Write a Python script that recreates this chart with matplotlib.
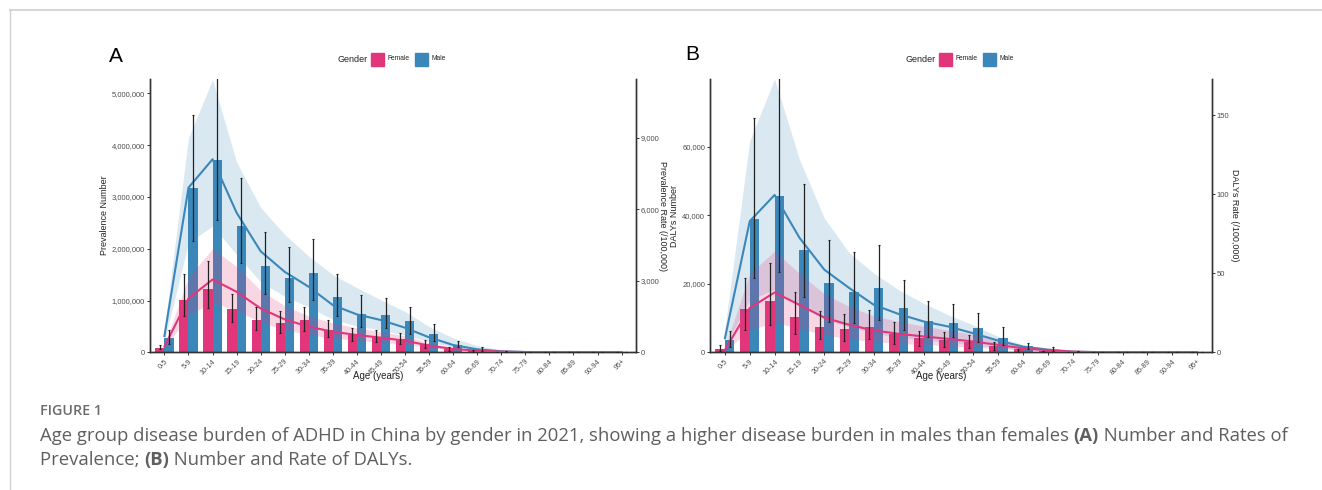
import matplotlib
matplotlib.use("Agg")
import matplotlib.pyplot as plt
from matplotlib.patches import Rectangle
from matplotlib.ticker import FuncFormatter
import numpy as np

ages = ["0-5", "5-9", "10-14", "15-19", "20-24", "25-29", "30-34", "35-39",
        "40-44", "45-49", "50-54", "55-59", "60-64", "65-69", "70-74",
        "75-79", "80-84", "85-89", "90-94", "95+"]

# Panel A: prevalence numbers (bars) and rates (lines)
prev_num_f = [90000, 1020000, 1220000, 830000, 620000, 560000, 620000, 440000,
              330000, 300000, 260000, 160000, 70000, 30000, 10000, 3000, 1000, 0, 0, 0]
prev_num_f_lo = [60000, 700000, 850000, 590000, 430000, 380000, 420000, 300000,
                 210000, 190000, 160000, 90000, 30000, 10000, 4000, 1000, 0, 0, 0, 0]
prev_num_f_hi = [140000, 1510000, 1760000, 1120000, 880000, 790000, 870000, 630000,
                 460000, 440000, 380000, 240000, 110000, 40000, 15000, 5000, 1000, 0, 0, 0]
prev_num_m = [280000, 3170000, 3710000, 2440000, 1660000, 1440000, 1530000, 1060000,
              740000, 720000, 600000, 360000, 150000, 60000, 15000, 5000, 1000, 0, 0, 0]
prev_num_m_lo = [170000, 2150000, 2550000, 1730000, 1130000, 970000, 1020000, 710000,
                 490000, 460000, 350000, 220000, 100000, 30000, 8000, 2000, 0, 0, 0, 0]
prev_num_m_hi = [430000, 4580000, 5600000, 3360000, 2320000, 2030000, 2190000, 1520000,
                 1110000, 1040000, 880000, 540000, 220000, 110000, 25000, 8000, 2000, 0, 0, 0]
prev_rate_f = [237, 2260, 3055, 2540, 1840, 1380, 1074, 865, 725, 614, 488, 279,
               140, 70, 28, 10, 4, 1, 0, 0]
prev_rate_f_lo = [160, 1550, 2100, 1750, 1270, 950, 740, 600, 500, 420, 335, 190,
                  95, 48, 19, 6, 2, 0, 0, 0]
prev_rate_f_hi = [330, 3150, 4350, 3600, 2600, 1950, 1520, 1230, 1030, 870, 690, 400,
                  200, 100, 40, 12, 4, 1, 0, 0]
prev_rate_m = [683, 6910, 8100, 5857, 4239, 3376, 2748, 1980, 1590, 1353, 1032, 628,
               307, 126, 42, 14, 5, 2, 1, 0]
prev_rate_m_lo = [450, 4600, 5300, 4100, 2950, 2350, 1900, 1380, 1100, 940, 720, 440,
                  215, 88, 29, 10, 3, 1, 0, 0]
prev_rate_m_hi = [1000, 9000, 11450, 7975, 6080, 4940, 4030, 3257, 2710, 2200, 1710, 1080,
                  600, 280, 100, 30, 10, 5, 2, 1]

# Panel B: DALYs numbers (bars) and rates (lines)
daly_num_f = [970, 12600, 15050, 10390, 7480, 6700, 7480, 5240, 4270, 3590, 3010, 1940,
              870, 290, 100, 30, 10, 0, 0, 0]
daly_num_f_lo = [490, 6500, 7860, 5340, 3980, 3400, 3980, 2430, 1840, 1650, 1170, 680,
                 190, 80, 30, 10, 0, 0, 0, 0]
daly_num_f_hi = [2040, 21840, 26000, 17570, 12140, 11170, 12330, 8740, 6310, 6020, 4950, 3110,
                 1070, 500, 200, 60, 20, 0, 0, 0]
daly_num_m = [3500, 39030, 45630, 30000, 20290, 17480, 18640, 12910, 9030, 8540, 7090, 4170,
              1840, 680, 190, 60, 20, 0, 0, 0]
daly_num_m_lo = [1650, 21550, 23500, 16210, 8930, 8450, 9420, 6500, 4560, 4370, 3110, 2040,
                 870, 390, 100, 30, 10, 0, 0, 0]
daly_num_m_hi = [6210, 68320, 82000, 49140, 32910, 29320, 31260, 21070, 14950, 13980, 11550, 7280,
                 2720, 1650, 400, 120, 40, 0, 0, 0]
daly_rate_f = [1.5, 28, 37.9, 30, 22, 17.4, 13.8, 11.7, 10, 8.5, 6.8, 4.7, 2.5, 1.3, 0.4,
               0.1, 0, 0, 0, 0]
daly_rate_f_lo = [0.7, 14, 19, 15, 11, 8.5, 6.7, 5.7, 4.9, 4.1, 3.3, 2.3, 1.2, 0.6, 0.2,
                  0, 0, 0, 0, 0]
daly_rate_f_hi = [3, 50, 64, 50, 37, 29, 23, 19.5, 16.5, 14, 11.3, 7.8, 4.2, 2.2, 0.7,
                  0.2, 0, 0, 0, 0]
daly_rate_m = [8.9, 83, 99.6, 72.5, 52.3, 40.7, 30, 24.2, 19.5, 16.3, 12, 7.4, 3.6, 1.7,
               0.4, 0.1, 0, 0, 0, 0]
daly_rate_m_lo = [4, 33, 40, 29, 21, 16, 12, 9.5, 7.6, 6.4, 4.8, 3, 1.4, 0.7, 0.2,
                  0, 0, 0, 0, 0]
daly_rate_m_hi = [15, 134, 173, 122, 85, 63, 50, 39.5, 31, 23.6, 17.3, 10, 4.7, 2, 0.6,
                  0.2, 0.1, 0, 0, 0]

FEMALE = "#E2367B"
MALE = "#3C87B9"
AXCOL = "#333333"
TXTCOL = "#4d4d4d"
W, H = 1322, 490

plt.rcParams["font.family"] = ["Liberation Sans", "DejaVu Sans"]

fig = plt.figure(figsize=(W / 100, H / 100), dpi=100)


def fx(px):
    return px / W


def fy(py):
    return 1 - py / H


def draw_panel(left_px, right_px, nf, nf_lo, nf_hi, nm, nm_lo, nm_hi,
               rf, rf_lo, rf_hi, rm, rm_lo, rm_hi,
               ylim_left, yticks_left, ylim_right, yticks_right,
               left_label, right_label, left_label_px, right_label_px):
    width_px = right_px - left_px
    ax = fig.add_axes([fx(left_px), fy(352.3), width_px / W, (352.3 - 79) / H])
    ax2 = ax.twinx()
    x = np.arange(len(ages))
    bw = 0.38
    ax.bar(x - bw / 2, nf, bw, color=FEMALE, zorder=1)
    ax.bar(x + bw / 2, nm, bw, color=MALE, zorder=1)

    # ribbons + lines on the rate axis
    ax2.fill_between(x, rm_lo, rm_hi, color=MALE, alpha=0.19, lw=0, zorder=2)
    ax2.fill_between(x, rf_lo, rf_hi, color=FEMALE, alpha=0.2, lw=0, zorder=2)
    ax2.plot(x, rm, color=MALE, lw=1.5, zorder=3)
    ax2.plot(x, rf, color=FEMALE, lw=1.5, zorder=3)

    # error bars of the numbers, drawn on the top axis so they sit over the ribbons
    scale = ylim_right / ylim_left
    for off, v, lo, hi in [(-bw / 2, nf, nf_lo, nf_hi), (bw / 2, nm, nm_lo, nm_hi)]:
        v = np.array(v, float)
        lo = np.array(lo, float)
        hi = np.array(hi, float)
        ax2.errorbar(x + off, v * scale, yerr=[(v - lo) * scale, (hi - v) * scale],
                     fmt="none", ecolor="#222222", elinewidth=0.9, capsize=1.0,
                     capthick=0.8, zorder=4)

    ax.set_xlim(-0.6, len(ages) - 0.4)
    ax.set_ylim(0, ylim_left)
    ax2.set_ylim(0, ylim_right)
    ax.set_yticks(yticks_left)
    ax2.set_yticks(yticks_right)
    fmt = FuncFormatter(lambda v, p: "{:,.0f}".format(v))
    ax.yaxis.set_major_formatter(fmt)
    ax2.yaxis.set_major_formatter(fmt)
    ax.set_xticks(x)
    ax.set_xticklabels(ages, rotation=45, ha="right", rotation_mode="anchor")

    for a in (ax, ax2):
        a.spines["top"].set_visible(False)
        for s in ("left", "right", "bottom"):
            a.spines[s].set_color(AXCOL)
            a.spines[s].set_linewidth(1.0)
        a.tick_params(length=2, width=0.7, color=AXCOL, labelcolor=TXTCOL,
                      labelsize=5.5, pad=1.5)
    ax.tick_params(axis="x", labelsize=5.2, pad=2)
    ax.set_ylabel(left_label, fontsize=6.5, color="#222222")
    ax.yaxis.set_label_coords((left_label_px - left_px) / width_px, 0.5)
    ax2.set_ylabel(right_label, fontsize=6.5, color="#222222", rotation=-90,
                   va="center")
    ax2.yaxis.set_label_coords((right_label_px - left_px) / width_px, 0.5)
    return ax, ax2


axA, axA2 = draw_panel(
    150, 636,
    prev_num_f, prev_num_f_lo, prev_num_f_hi, prev_num_m, prev_num_m_lo, prev_num_m_hi,
    prev_rate_f, prev_rate_f_lo, prev_rate_f_hi, prev_rate_m, prev_rate_m_lo, prev_rate_m_hi,
    5280000, [0, 1000000, 2000000, 3000000, 4000000, 5000000],
    11470, [0, 3000, 6000, 9000],
    "Prevalence Number", "Prevalence Rate (/100,000)", 109, 663)

axB, axB2 = draw_panel(
    710, 1212,
    daly_num_f, daly_num_f_lo, daly_num_f_hi, daly_num_m, daly_num_m_lo, daly_num_m_hi,
    daly_rate_f, daly_rate_f_lo, daly_rate_f_hi, daly_rate_m, daly_rate_m_lo, daly_rate_m_hi,
    79800, [0, 20000, 40000, 60000],
    173, [0, 50, 100, 150],
    "DALYs Number", "DALYs Rate (/100,000)", 679, 1234)

# x titles and panel letters
fig.text(fx(378), fy(376), "Age (years)", fontsize=7, color="#222222", ha="center", va="center")
fig.text(fx(941), fy(376), "Age (years)", fontsize=7, color="#222222", ha="center", va="center")
fig.text(fx(116), fy(57), "A", fontsize=15, color="black", ha="center", va="center")
fig.text(fx(692), fy(55), "B", fontsize=15, color="black", ha="center", va="center")

# legends
for gx in (337, 905):
    fig.text(fx(gx), fy(59), "Gender", fontsize=6.5, color="#222222", va="center")
    fig.patches.append(Rectangle((fx(gx + 34), fy(66)), fx(13), 13 / H,
                                 transform=fig.transFigure, color=FEMALE))
    fig.text(fx(gx + 51), fy(59), "Female", fontsize=4.8, color="#222222", va="center")
    fig.patches.append(Rectangle((fx(gx + 78), fy(66)), fx(13), 13 / H,
                                 transform=fig.transFigure, color=MALE))
    fig.text(fx(gx + 95), fy(59), "Male", fontsize=4.8, color="#222222", va="center")

# frame lines of the page
fig.add_artist(plt.Line2D([fx(10), 1], [fy(10), fy(10)], color="#d6d6d6", lw=1.5,
                          transform=fig.transFigure))
fig.add_artist(plt.Line2D([fx(10), fx(10)], [fy(10), 0], color="#d0d0d0", lw=1.0,
                          transform=fig.transFigure))

# caption
renderer = fig.canvas.get_renderer()


def rich_line(x0, y0, pieces, size):
    xpos = x0
    for txt, bold in pieces:
        t = fig.text(xpos, y0, txt, fontsize=size, color="#5f5f5f",
                     family="Open Sans", weight="bold" if bold else "normal",
                     va="baseline", ha="left")
        bb = t.get_window_extent(renderer=renderer)
        xpos += bb.width / W


fig.text(fx(40), fy(415), "FIGURE 1", fontsize=10.3, color="#6b6b6b", family="Open Sans",
         weight="semibold", va="baseline")
cap_size = 13.3
rich_line(fx(40), fy(441), [
    ("Age group disease burden of ADHD in China by gender in 2021, showing a higher disease burden in males than females ", False),
    ("(A)", True), (" Number and Rates of", False)], cap_size)
rich_line(fx(40), fy(465), [("Prevalence; ", False), ("(B)", True),
                            (" Number and Rate of DALYs.", False)], cap_size)

fig.savefig("out.png", dpi=100)
